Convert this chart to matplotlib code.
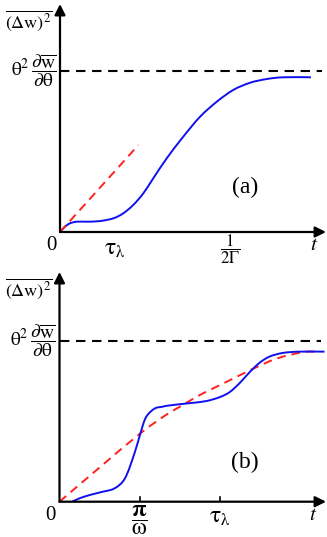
import numpy as np
import matplotlib
matplotlib.use('Agg')
import matplotlib.pyplot as plt
from matplotlib.path import Path
from matplotlib.patches import PathPatch

plt.rcParams['font.family'] = ['Liberation Serif', 'DejaVu Serif']
plt.rcParams['mathtext.fontset'] = 'stix'

#%% data (t in units of 1/(2 Gamma), y in units of the plateau)
# panel (a)
ta_blue = [0, 0.029, 0.059, 0.098, 0.157, 0.235, 0.314, 0.372, 0.431, 0.49, 0.549, 0.628,
           0.725, 0.824, 0.922, 1.019, 1.118, 1.216, 1.314, 1.476]
ya_blue = [0, 0.033, 0.054, 0.064, 0.064, 0.068, 0.085, 0.116, 0.168, 0.24, 0.334, 0.458,
           0.592, 0.716, 0.809, 0.882, 0.927, 0.95, 0.961, 0.961]
ta_red = [0, 0.461]
ya_red = [0, 0.54]
# panel (b)
tb_blue = [0.075, 0.118, 0.176, 0.255, 0.324, 0.385, 0.441, 0.476, 0.509, 0.559, 0.606,
           0.647, 0.765, 0.863, 0.941, 1.0, 1.059, 1.118, 1.176, 1.235, 1.314, 1.412, 1.559]
yb_blue = [0, 0.021, 0.041, 0.062, 0.083, 0.145, 0.3, 0.425, 0.525, 0.578, 0.59,
           0.598, 0.612, 0.625, 0.649, 0.68, 0.736, 0.804, 0.862, 0.901, 0.924, 0.932, 0.932]
tb_red = [0, 0.235, 0.476, 0.628, 0.725, 0.824, 0.961, 1.118, 1.275, 1.431, 1.5]
yb_red = [0, 0.212, 0.425, 0.54, 0.6, 0.662, 0.733, 0.815, 0.888, 0.929, 0.932]

ticks_a = [0.324, 1.0]
ticklabels_a = [r'$\mathrm{\tau}_{\mathrm{\lambda}}$', r'$\dfrac{1}{2\Gamma}$']
ticks_b = [0.471, 0.945]
ticklabels_b = [r'$\dfrac{\mathbf{\pi}}{\mathrm{\omega}}$', r'$\mathrm{\tau}_{\mathrm{\lambda}}$']

ylab = r'$\overline{(\Delta\mathrm{w})^2}$'
plateau_lab = r'$\mathrm{\theta}^2\,\dfrac{\partial\overline{\mathrm{w}}}{\partial\mathrm{\theta}}$'

W, H = 327, 537
fig = plt.figure(figsize=(W / 100, H / 100), dpi=100)


def smooth(ax, x, y, **kw):
    # draw the read points as one smooth bezier path (catmull-rom)
    p = np.column_stack([x, y]).astype(float)
    pe = np.vstack([p[0], p, p[-1]])
    verts = [p[0]]
    codes = [Path.MOVETO]
    for i in range(1, len(pe) - 2):
        c1 = pe[i] + (pe[i + 1] - pe[i - 1]) / 6
        c2 = pe[i + 1] - (pe[i + 2] - pe[i]) / 6
        verts += [c1, c2, pe[i + 1]]
        codes += [Path.CURVE4] * 3
    ax.add_patch(PathPatch(Path(verts, codes), fill=False, **kw))


def make_panel(x0, y0, xtip, ytip, tblue, yblue, tred, yred, ticks, ticklabels, name, ylabel_px,
               showticks, tick_dy, tick_fs):
    sc = 170.0  # px per t unit
    sy = 161.0  # px per y unit
    ax = fig.add_axes([x0 / W, 1 - y0 / H, (xtip - x0) / W, (y0 - ytip) / H])
    xmax = (xtip - x0) / sc
    ymax = (y0 - ytip) / sy
    ax.set_xlim(0, xmax)
    ax.set_ylim(0, ymax)
    ax.axis('off')
    # axes with arrows
    ax.annotate('', xy=(xmax, 0), xytext=(0, 0), annotation_clip=False,
                arrowprops=dict(arrowstyle='-|>', lw=1.6, color='k', mutation_scale=16,
                                shrinkA=0, shrinkB=0))
    ax.annotate('', xy=(0, ymax), xytext=(0, 0), annotation_clip=False,
                arrowprops=dict(arrowstyle='-|>', lw=1.6, color='k', mutation_scale=16,
                                shrinkA=0, shrinkB=0))
    ax.plot([0, 1.54], [1, 1], color='k', ls=(0, (4.5, 3.2)), lw=1.5)
    if len(tred) == 2:
        ax.plot(tred, yred, color='#ff2020', ls=(0, (4.5, 3)), lw=1.4)
    else:
        smooth(ax, tred, yred, color='#ff2020', ls=(0, (4.5, 3)), lw=1.4)
    smooth(ax, tblue, yblue, color='#1010ee', lw=1.4)
    for tk, lab, dy, fs in zip(ticks, ticklabels, tick_dy, tick_fs):
        if showticks:
            ax.plot([tk, tk], [0, 5 / sy], color='k', lw=1.2)
        ax.text(tk, -dy / sy, lab, ha='center', va='center', fontsize=fs)
    ax.text(-9 / sc, -14 / sy, '0', ha='center', va='center', fontsize=15)
    ax.text(1.493, -14 / sy, r'$t$', ha='center', va='center', fontsize=15)
    ax.text(-4 / sc, 1, plateau_lab, ha='right', va='center', fontsize=14)
    ax.text(-31 / sc, ymax - 17 / sy, ylab, ha='center', va='center', fontsize=13)
    ax.text(1.09, (y0 - ylabel_px) / sy, name, ha='center', va='center', fontsize=17)
    return ax

make_panel(60, 232, 326, 4, ta_blue, ya_blue, ta_red, ya_red, ticks_a, ticklabels_a, '(a)', 187,
           False, [17, 17], [17, 12])
make_panel(59.5, 501.7, 326, 272, tb_blue, yb_blue, tb_red, yb_red, ticks_b, ticklabels_b, '(b)', 462,
           True, [19, 16], [17, 17])

fig.savefig('out.png', dpi=100)
